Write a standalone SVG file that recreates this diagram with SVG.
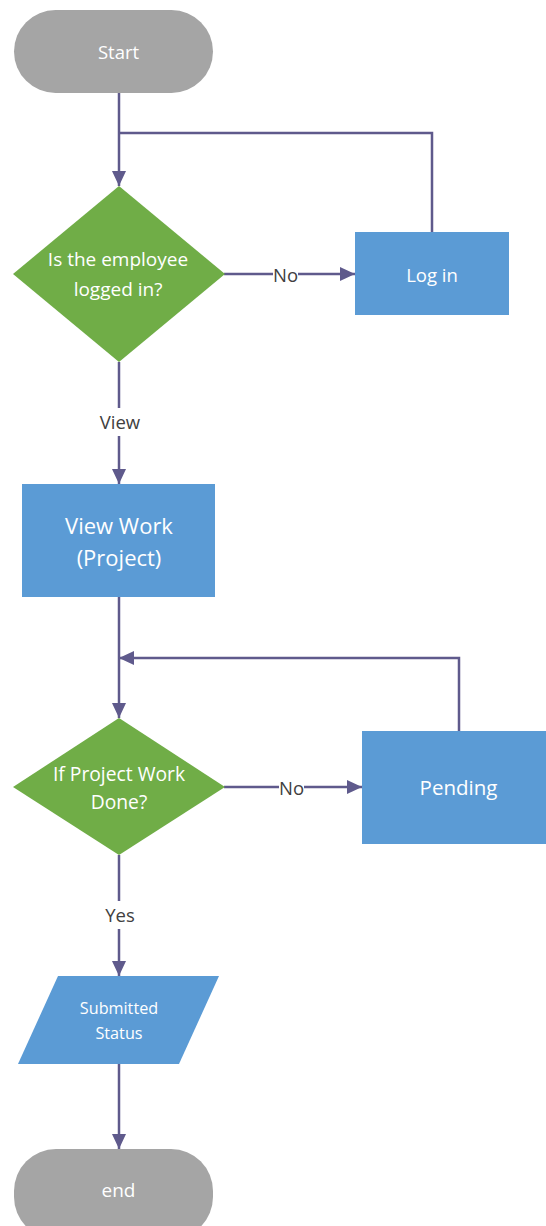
<svg xmlns="http://www.w3.org/2000/svg" width="546" height="1226" viewBox="0 0 546 1226">
<style>
.term{fill:#a5a5a5}
.dec{fill:#70ad47}
.proc{fill:#5b9bd5}
.t{fill:#ffffff;font-family:"Open Sans","Liberation Sans",sans-serif;text-anchor:middle;dominant-baseline:central}
.conn{fill:none;stroke:#5f5a8c;stroke-width:2.5}
.lbl{fill:#404040;font-family:"Open Sans","Liberation Sans",sans-serif;font-size:18.5px;text-anchor:middle;dominant-baseline:central}
</style>
<defs>
<marker id="ah" markerUnits="userSpaceOnUse" markerWidth="15" markerHeight="15" refX="15" refY="7.5" orient="auto">
<path d="M0,0.5 L15,7.5 L0,14.5 z" fill="#5f5a8c"/>
</marker>
</defs>
<rect width="546" height="1226" fill="#ffffff"/>
<g id="connectors">
<path class="conn" d="M119,93 V186" marker-end="url(#ah)"/>
<path class="conn" d="M432,232 V133 H119"/>
<path class="conn" d="M224,274 H355" marker-end="url(#ah)"/>
<path class="conn" d="M119,362 V484" marker-end="url(#ah)"/>
<path class="conn" d="M119,597 V718" marker-end="url(#ah)"/>
<path class="conn" d="M459,731 V658 H119" marker-end="url(#ah)"/>
<path class="conn" d="M224,787 H362" marker-end="url(#ah)"/>
<path class="conn" d="M119,855 V976" marker-end="url(#ah)"/>
<path class="conn" d="M119,1064 V1149" marker-end="url(#ah)"/>
<rect x="273" y="264" width="25" height="20" fill="#ffffff"/>
<text class="lbl" x="285.5" y="274">No</text>
<rect x="96" y="408" width="48" height="28" fill="#ffffff"/>
<text class="lbl" x="120" y="421">View</text>
<rect x="279" y="777" width="25" height="20" fill="#ffffff"/>
<text class="lbl" x="291.5" y="787">No</text>
<rect x="100" y="901" width="40" height="28" fill="#ffffff"/>
<text class="lbl" x="120" y="914">Yes</text>
</g>
<g id="start">
<rect class="term" x="14" y="10" width="199" height="83" rx="41.5"/>
<text class="t" x="118.5" y="51" font-size="18.5">Start</text>
</g>
<g id="decision1">
<polygon class="dec" points="119,186 225,274 119,362 13,274"/>
<text class="t" font-size="19"><tspan x="118" y="259">Is the employee</tspan><tspan x="118" y="289">logged in?</tspan></text>
</g>
<g id="login">
<rect class="proc" x="355" y="232" width="154" height="83"/>
<text class="t" x="432" y="274" font-size="18.5">Log in</text>
</g>
<g id="viewwork">
<rect class="proc" x="22" y="484" width="193" height="113"/>
<text class="t" font-size="22"><tspan x="119" y="525">View Work</tspan><tspan x="119" y="557">(Project)</tspan></text>
</g>
<g id="decision2">
<polygon class="dec" points="119,718 225,787 119,855 13,787"/>
<text class="t" font-size="19.3"><tspan x="119" y="773">If Project Work</tspan><tspan x="119" y="801">Done?</tspan></text>
</g>
<g id="pending">
<rect class="proc" x="362" y="731" width="190" height="113"/>
<text class="t" x="458.5" y="787" font-size="20.5">Pending</text>
</g>
<g id="submitted">
<polygon class="proc" points="58,976 219,976 179,1064 18,1064"/>
<text class="t" font-size="16.2"><tspan x="119" y="1008">Submitted</tspan><tspan x="119" y="1033">Status</tspan></text>
</g>
<g id="end">
<rect class="term" x="14" y="1149" width="199" height="90" rx="42"/>
<text class="t" x="118.5" y="1190" font-size="19">end</text>
</g>
</svg>
